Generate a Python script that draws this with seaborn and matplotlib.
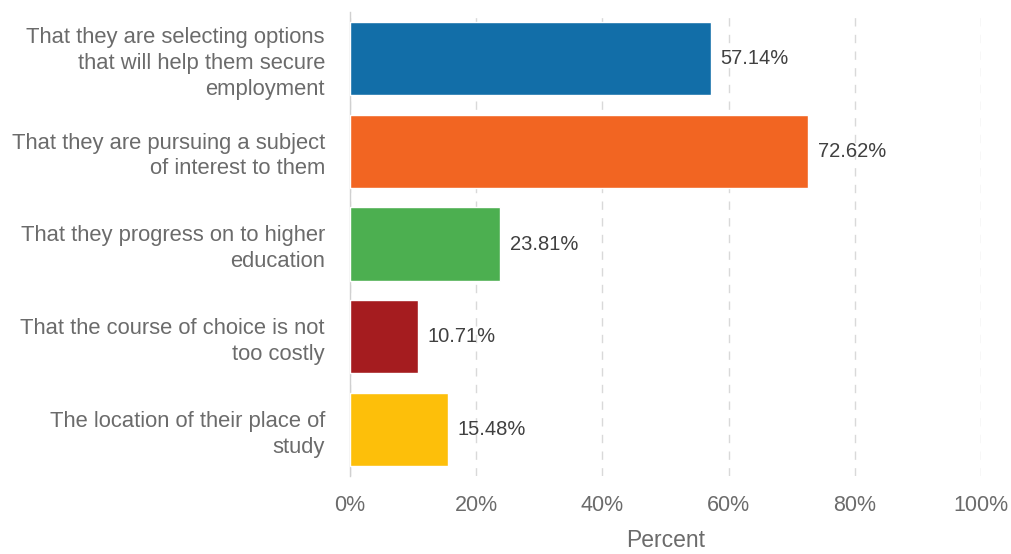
import matplotlib
matplotlib.use("Agg")
import matplotlib.pyplot as plt
import seaborn as sns
import pandas as pd

categories = [
    "That they are selecting options\nthat will help them secure\nemployment",
    "That they are pursuing a subject\nof interest to them",
    "That they progress on to higher\neducation",
    "That the course of choice is not\ntoo costly",
    "The location of their place of\nstudy",
]
values = [57.14, 72.62, 23.81, 10.71, 15.48]
colors = ["#126ea8", "#f26522", "#4caf50", "#a51c1f", "#fdbf0a"]
xticks = [0, 20, 40, 60, 80, 100]
xticklabels = ["0%", "20%", "40%", "60%", "80%", "100%"]

sns.set_theme(style="white")
plt.rcParams['font.family'] = ['Liberation Sans', 'DejaVu Sans']

df = pd.DataFrame({"cat": categories, "val": values})

fig = plt.figure(figsize=(10.12, 5.54), dpi=100)
ax = fig.add_axes([350/1012, 1-476/554, (981-350)/1012, (476-12)/554])

sns.barplot(data=df, x="val", y="cat", hue="cat", palette=colors, legend=False,
            saturation=1, width=0.79, ax=ax, orient="h", zorder=3)

ax.set_xlim(0, 100)
ax.set_ylim(4.5, -0.5)
ax.set_xticks(xticks)
ax.set_xticklabels(xticklabels)
ax.grid(axis="x", color="#d9d9d9", linestyle=(0, (6, 6)), linewidth=1, zorder=0)
for s in ["top", "right", "bottom"]:
    ax.spines[s].set_visible(False)
ax.spines["left"].set_color("#d0d0d0")
ax.spines["left"].set_linewidth(1)
ax.tick_params(axis="x", colors="#6b6b6b", labelsize=15.5, length=0, pad=14)
ax.tick_params(axis="y", colors="#6b6b6b", labelsize=15.8, length=0, pad=18)
for lbl in ax.get_yticklabels():
    lbl.set_horizontalalignment("right")
    lbl.set_multialignment("right")
    lbl.set_linespacing(1.3)
ax.set_ylabel("")
ax.set_xlabel("Percent", color="#6b6b6b", fontsize=16.5, labelpad=9)

for i, v in enumerate(values):
    ax.text(v + 1.6, i, f"{v:.2f}%", va="center", ha="left", color="#404040", fontsize=14.5, zorder=4)

fig.savefig("out.png", dpi=100, facecolor="white")
